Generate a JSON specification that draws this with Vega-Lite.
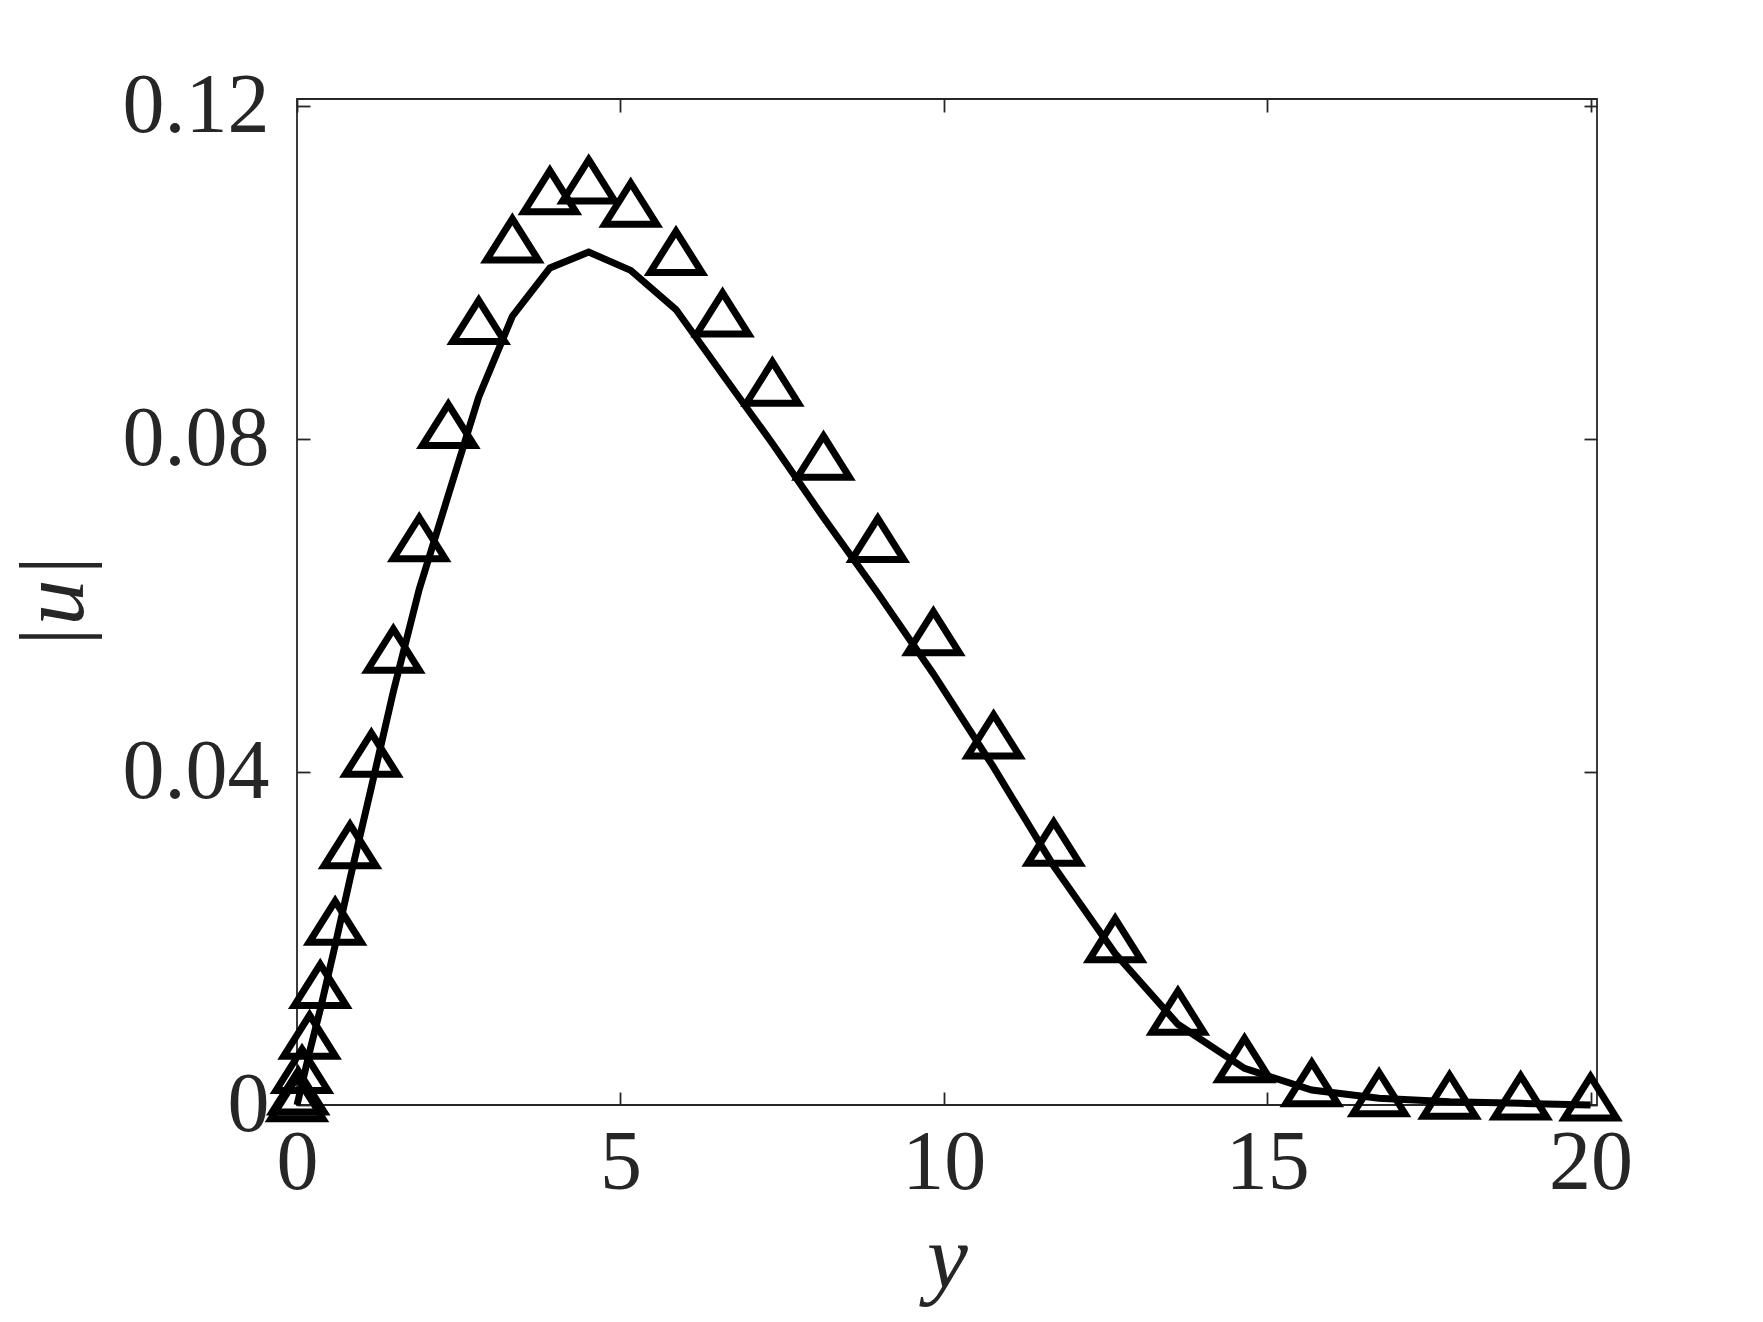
{
  "$schema": "https://vega.github.io/schema/vega-lite/v6.json",
  "width": 1300,
  "height": 1006,
  "autosize": {"type": "none"},
  "padding": {"left": 297, "top": 99, "right": 166, "bottom": 217},
  "background": "white",
  "config": {
    "view": {"stroke": "#262626", "strokeWidth": 1.8},
    "axis": {
      "labelFont": "Liberation Serif",
      "labelFontSize": 84,
      "labelColor": "#262626",
      "titleFont": "Liberation Serif",
      "titleFontSize": 92,
      "titleColor": "#262626",
      "titleFontWeight": "normal",
      "domain": false,
      "grid": false,
      "tickColor": "#262626",
      "tickWidth": 1.8,
      "tickSize": -13,
      "labelFlush": false,
      "labelOverlap": false
    }
  },
  "datasets": {
    "line": [
      {"pos": 0, "u": 0},
      {"pos": 0.019, "u": 0.0006},
      {"pos": 0.077, "u": 0.0025},
      {"pos": 0.195, "u": 0.0064},
      {"pos": 0.36, "u": 0.0115},
      {"pos": 0.59, "u": 0.0192},
      {"pos": 0.82, "u": 0.0272},
      {"pos": 1.15, "u": 0.0382},
      {"pos": 1.49, "u": 0.0497},
      {"pos": 1.89, "u": 0.062},
      {"pos": 2.34, "u": 0.0733},
      {"pos": 2.81, "u": 0.0851},
      {"pos": 3.33, "u": 0.0948},
      {"pos": 3.91, "u": 0.1006},
      {"pos": 4.51, "u": 0.1025},
      {"pos": 5.16, "u": 0.1003},
      {"pos": 5.86, "u": 0.0956},
      {"pos": 6.58, "u": 0.0878},
      {"pos": 7.35, "u": 0.0795},
      {"pos": 8.14, "u": 0.0706},
      {"pos": 8.98, "u": 0.0615},
      {"pos": 9.84, "u": 0.0518},
      {"pos": 10.77, "u": 0.0406},
      {"pos": 11.7, "u": 0.0287},
      {"pos": 12.65, "u": 0.0182},
      {"pos": 13.62, "u": 0.0097},
      {"pos": 14.65, "u": 0.0044},
      {"pos": 15.69, "u": 0.0018},
      {"pos": 16.73, "u": 0.0008},
      {"pos": 17.82, "u": 0.0004},
      {"pos": 18.92, "u": 0.0002},
      {"pos": 20, "u": 0}
    ],
    "tri": [
      {"pos": 0, "u": 0},
      {"pos": 0.019, "u": 0.0008},
      {"pos": 0.077, "u": 0.0034},
      {"pos": 0.195, "u": 0.0075},
      {"pos": 0.36, "u": 0.0136},
      {"pos": 0.59, "u": 0.0212},
      {"pos": 0.82, "u": 0.0304},
      {"pos": 1.15, "u": 0.0414},
      {"pos": 1.49, "u": 0.0539},
      {"pos": 1.89, "u": 0.0673},
      {"pos": 2.34, "u": 0.0809},
      {"pos": 2.81, "u": 0.0934},
      {"pos": 3.33, "u": 0.1032},
      {"pos": 3.91, "u": 0.109},
      {"pos": 4.51, "u": 0.1103},
      {"pos": 5.16, "u": 0.1075},
      {"pos": 5.86, "u": 0.1017},
      {"pos": 6.58, "u": 0.0943},
      {"pos": 7.35, "u": 0.086},
      {"pos": 8.14, "u": 0.0771},
      {"pos": 8.98, "u": 0.0672},
      {"pos": 9.84, "u": 0.056},
      {"pos": 10.77, "u": 0.0436},
      {"pos": 11.7, "u": 0.0307},
      {"pos": 12.65, "u": 0.0191},
      {"pos": 13.62, "u": 0.0104},
      {"pos": 14.65, "u": 0.0047},
      {"pos": 15.69, "u": 0.0018},
      {"pos": 16.73, "u": 0.0006},
      {"pos": 17.82, "u": 0.0003},
      {"pos": 18.92, "u": 0.0002},
      {"pos": 20, "u": 0.0001}
    ]
  },
  "layer": [
    {
      "data": {"name": "line"},
      "mark": {"type": "line", "stroke": "black", "strokeWidth": 7, "clip": false},
      "encoding": {
        "x": {
          "field": "pos", "type": "quantitative",
          "scale": {"domain": [0, 20.1], "nice": false, "zero": false},
          "axis": {"orient": "bottom", "values": [0, 5, 10, 15, 20], "format": "d", "title": "y", "titleFontStyle": "italic", "labelPadding": 30, "titleY": 182, "titleBaseline": "alphabetic"}
        },
        "y": {
          "field": "u", "type": "quantitative",
          "scale": {"domain": [0, 0.1209], "nice": false},
          "axis": {"orient": "left", "values": [0, 0.04, 0.08, 0.12], "format": ".2~f", "title": "|u|", "titleFontStyle": "italic", "labelPadding": 41, "titleX": -243, "titleBaseline": "middle"}
        }
      }
    },
    {
      "data": {"name": "tri"},
      "mark": {"type": "point", "shape": "M0,-1L0.944,0.5L-0.944,0.5Z", "filled": false, "stroke": "black", "strokeWidth": 7, "size": 3025, "opacity": 1, "clip": false},
      "encoding": {
        "x": {
          "field": "pos", "type": "quantitative",
          "axis": {"orient": "top", "values": [0, 5, 10, 15, 20], "labels": false, "title": null}
        },
        "y": {
          "field": "u", "type": "quantitative",
          "axis": {"orient": "right", "values": [0, 0.04, 0.08, 0.12], "labels": false, "title": null}
        }
      }
    }
  ],
  "resolve": {"axis": {"x": "independent", "y": "independent"}}
}
